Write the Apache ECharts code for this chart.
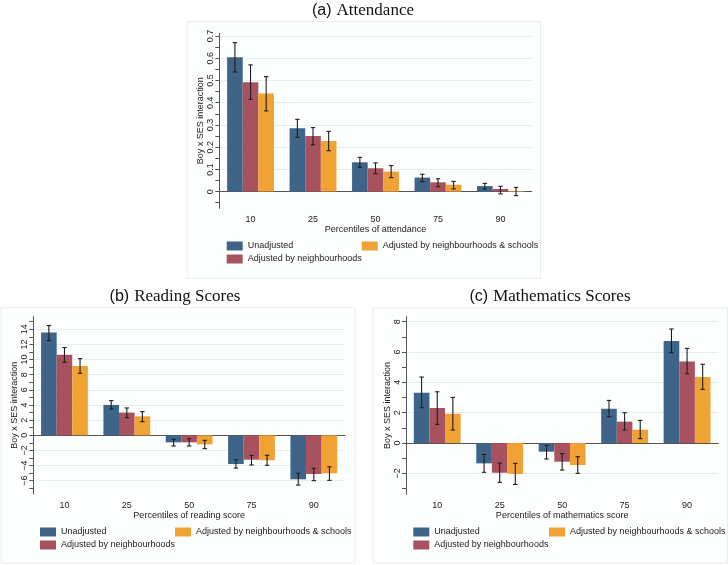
<!DOCTYPE html>
<html><head><meta charset="utf-8">
<script src="https://cdn.jsdelivr.net/npm/echarts@6/dist/echarts.min.js"></script>
<style>html,body{margin:0;padding:0;background:#fff}#c{width:728px;height:565px}</style>
</head><body><div id="c"></div>
<script>
const categories = ['10', '25', '50', '75', '90'];
const seriesNames = ['Unadjusted', 'Adjusted by neighbourhoods', 'Adjusted by neighbourhoods & schools'];
const colors = ['#3f6489', '#a8525f', '#f0a234'];

// (a) Attendance
const attUnadj = [0.604, 0.285, 0.132, 0.063, 0.025];
const attUnadjLo = [0.538, 0.244, 0.109, 0.045, 0.012];
const attUnadjHi = [0.670, 0.325, 0.154, 0.078, 0.037];
const attNbh = [0.492, 0.250, 0.105, 0.042, 0.012];
const attNbhLo = [0.415, 0.210, 0.081, 0.022, -0.010];
const attNbhHi = [0.570, 0.288, 0.129, 0.058, 0.024];
const attNbhSch = [0.441, 0.228, 0.090, 0.031, 0.003];
const attNbhSchLo = [0.363, 0.184, 0.063, 0.012, -0.018];
const attNbhSchHi = [0.517, 0.271, 0.117, 0.046, 0.019];
const attTicks = [0, 0.1, 0.2, 0.3, 0.4, 0.5, 0.6, 0.7];
const attMinor = [-0.05, 0.05, 0.15, 0.25, 0.35, 0.45, 0.55, 0.65];

// (b) Reading scores
const readUnadj = [13.57, 4.01, -0.93, -3.79, -5.81];
const readUnadjLo = [12.51, 3.48, -1.41, -4.32, -6.57];
const readUnadjHi = [14.49, 4.58, -0.53, -3.22, -5.02];
const readNbh = [10.62, 3.00, -0.93, -3.22, -5.11];
const readNbhLo = [9.65, 2.33, -1.41, -3.92, -5.99];
const readNbhHi = [11.59, 3.61, -0.44, -2.64, -4.36];
const readNbhSch = [9.16, 2.51, -1.19, -3.30, -5.02];
const readNbhSchLo = [8.19, 1.80, -1.76, -3.96, -5.95];
const readNbhSchHi = [10.13, 3.13, -0.66, -2.64, -4.15];
const readTicks = [-6, -4, -2, 0, 2, 4, 6, 8, 10, 12, 14];
const readMinor = [-7, -5, -3, -1, 1, 3, 5, 7, 9, 11, 13, 15];

// (c) Mathematics scores
const mathUnadj = [3.32, -1.34, -0.57, 2.26, 6.73];
const mathUnadjLo = [2.33, -1.93, -1.05, 1.74, 5.96];
const mathUnadjHi = [4.35, -0.75, -0.15, 2.81, 7.52];
const mathNbh = [2.31, -1.96, -1.23, 1.41, 5.38];
const mathNbhLo = [1.23, -2.59, -1.78, 0.86, 4.57];
const mathNbhHi = [3.38, -1.32, -0.70, 2.00, 6.24];
const mathNbhSch = [1.93, -2.04, -1.45, 0.88, 4.35];
const mathNbhSchLo = [0.86, -2.73, -2.00, 0.29, 3.54];
const mathNbhSchHi = [3.01, -1.34, -0.90, 1.49, 5.19];
const mathTicks = [-2, 0, 2, 4, 6, 8];
const mathMinor = [-3, -1, 1, 3, 5, 7];

const SANS = 'Liberation Sans';
const SERIF = 'Liberation Serif';
const BARW = 0.25;

const panels = [
  { title: ['(a)', 'Attendance'], tx: 363, ty: 2, xName: 'Percentiles of attendance',
    grid: { left: 219.3, top: 33.3, width: 312.4, height: 175 }, min: -0.075, max: 0.712,
    ticks: attTicks, minor: attMinor,
    vals: [attUnadj, attNbh, attNbhSch], lo: [attUnadjLo, attNbhLo, attNbhSchLo], hi: [attUnadjHi, attNbhHi, attNbhSchHi],
    leg: { x1: 226.7, x2: 361.7, y1: 241.5, y2: 254.5 }, box: [187, 21.7, 353.7, 256.6] },
  { title: ['(b)', 'Reading Scores'], tx: 175, ty: 288, xName: 'Percentiles of reading score',
    grid: { left: 33.3, top: 316.7, width: 311.7, height: 177.3 }, min: -7.75, max: 15.66,
    ticks: readTicks, minor: readMinor,
    vals: [readUnadj, readNbh, readNbhSch], lo: [readUnadjLo, readNbhLo, readNbhSchLo], hi: [readUnadjHi, readNbhHi, readNbhSchHi],
    leg: { x1: 40, x2: 175, y1: 527.5, y2: 540.5 }, box: [1, 307.7, 354, 255.3] },
  { title: ['(c)', 'Mathematics Scores'], tx: 550, ty: 288, xName: 'Percentiles of mathematics score',
    grid: { left: 406, top: 316.7, width: 312.3, height: 177.6 }, min: -3.38, max: 8.33,
    ticks: mathTicks, minor: mathMinor,
    vals: [mathUnadj, mathNbh, mathNbhSch], lo: [mathUnadjLo, mathNbhLo, mathNbhSchLo], hi: [mathUnadjHi, mathNbhHi, mathNbhSchHi],
    leg: { x1: 413.3, x2: 549, y1: 527.5, y2: 540.5 }, box: [373, 308, 354.5, 255] }
];

const fmt = v => String(+v.toFixed(2)).replace('-', '\u2212');

const option = {
  animation: false,
  backgroundColor: '#ffffff',
  textStyle: { fontFamily: SANS },
  title: [], grid: [], xAxis: [], yAxis: [], series: [], legend: [],
  graphic: []
};

panels.forEach((p, i) => {
  option.graphic.push({
    type: 'rect', z: -10, silent: true,
    shape: { x: p.box[0], y: p.box[1], width: p.box[2], height: p.box[3] },
    style: { fill: '#fdfefe', stroke: '#e8edf1', lineWidth: 1 }
  });
  option.title.push({
    text: '{s|' + p.title[0] + '} {r|' + p.title[1] + '}',
    left: p.tx, top: p.ty, textAlign: 'center', padding: 0,
    textStyle: { fontWeight: 'normal', rich: {
      s: { fontFamily: SANS, fontSize: 16, color: '#111', fontWeight: 'normal' },
      r: { fontFamily: SERIF, fontSize: 17, color: '#111', fontWeight: 'normal' }
    } }
  });
  option.grid.push(Object.assign({}, p.grid));
  option.xAxis.push({
    type: 'category', gridIndex: i, data: categories,
    name: p.xName, nameLocation: 'middle', nameGap: 15,
    nameTextStyle: { fontSize: 9, color: '#222', fontFamily: SANS },
    axisLine: { lineStyle: { color: '#555', width: 1 } },
    axisTick: { alignWithLabel: true, length: 4, lineStyle: { color: '#555' } },
    axisLabel: { fontSize: 9, color: '#222', margin: 7, fontFamily: SANS },
    splitLine: { show: false }
  });
  option.yAxis.push({
    type: 'value', gridIndex: i, position: 'left', min: p.min, max: p.max,
    name: 'Boy x SES interaction', nameLocation: 'middle', nameGap: 14,
    nameTextStyle: { fontSize: 9, color: '#222', fontFamily: SANS },
    axisLine: { show: true, lineStyle: { color: '#555', width: 1 } },
    axisTick: { show: true, length: 4, customValues: p.ticks, lineStyle: { color: '#555' } },
    axisLabel: { rotate: 90, fontSize: 9, color: '#222', margin: 4, customValues: p.ticks, formatter: fmt, fontFamily: SANS },
    splitLine: { show: true, lineStyle: { color: '#e6edf2', width: 1 } }
  });
  option.yAxis.push({
    type: 'value', gridIndex: i, position: 'left', offset: 0, min: p.min, max: p.max,
    axisLine: { show: false },
    axisTick: { show: true, length: 4, customValues: p.minor, lineStyle: { color: '#555' } },
    axisLabel: { show: false },
    splitLine: { show: false }
  });
  for (let k = 0; k < 3; k++) {
    option.series.push({
      type: 'bar', name: seriesNames[k], xAxisIndex: i, yAxisIndex: 2 * i,
      data: p.vals[k], barWidth: (BARW * 100) + '%', barGap: '0%',
      itemStyle: { color: colors[k] }, z: 2
    });
  }
  for (let k = 0; k < 3; k++) {
    const data = categories.map((c, j) => [j, p.lo[k][j], p.hi[k][j]]);
    option.series.push({
      type: 'custom', name: seriesNames[k] + ' CI', xAxisIndex: i, yAxisIndex: 2 * i,
      data: data, encode: { x: 0, y: [1, 2] }, z: 5, silent: true,
      renderItem: (params, api) => {
        const band = api.size([1, 0])[0];
        const off = (k - 1) * band * BARW;
        const top = api.coord([api.value(0), api.value(2)]);
        const bot = api.coord([api.value(0), api.value(1)]);
        const x = top[0] + off;
        const cw = 2.2;
        const st = { stroke: '#1e1e1e', lineWidth: 1.1 };
        return { type: 'group', children: [
          { type: 'line', shape: { x1: x, y1: top[1], x2: x, y2: bot[1] }, style: st },
          { type: 'line', shape: { x1: x - cw, y1: top[1], x2: x + cw, y2: top[1] }, style: st },
          { type: 'line', shape: { x1: x - cw, y1: bot[1], x2: x + cw, y2: bot[1] }, style: st }
        ] };
      }
    });
  }
  const legPos = [[p.leg.x1, p.leg.y1], [p.leg.x1, p.leg.y2], [p.leg.x2, p.leg.y1]];
  for (let k = 0; k < 3; k++) {
    option.legend.push({
      data: [seriesNames[k]], left: legPos[k][0], top: legPos[k][1], padding: 0,
      selectedMode: false, icon: 'rect', itemWidth: 16, itemHeight: 9, itemGap: 0,
      textStyle: { fontSize: 9, color: '#222', fontFamily: SANS, padding: [0, 0, 0, 0] }
    });
  }
});

const chart = echarts.init(document.getElementById('c'), null, { renderer: 'canvas' });
chart.setOption(option);
</script>
</body></html>
